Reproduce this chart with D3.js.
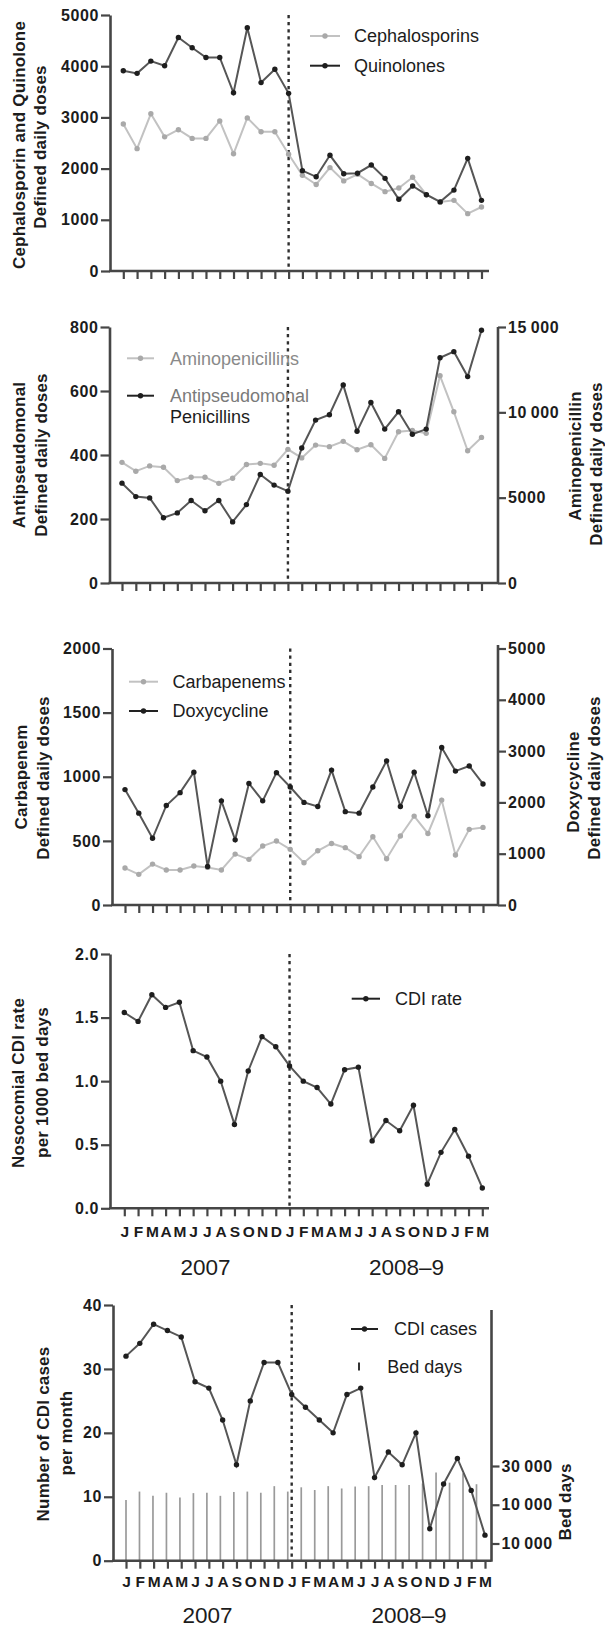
<!DOCTYPE html>
<html>
<head>
<meta charset="utf-8">
<script src="https://cdn.jsdelivr.net/npm/d3@7"></script>
<style>
  body { margin: 0; background: #fff; }
  svg { display: block; }
  text { font-family: "Liberation Sans", Arial, Helvetica, sans-serif; fill: #1c1c1c; }
</style>
</head>
<body>
<svg id="chart" width="605" height="1629"></svg>
<script>
/* antibiotic use vs CDI, 2007 – 2008-9, five stacked panels */
var months = ['J','F','M','A','M','J','J','A','S','O','N','D','J','F','M','A','M','J','J','A','S','O','N','D','J','F','M'];
var years = ['2007', '2008\u20139'];

var cephalosporins = [2870,2390,3070,2620,2760,2590,2590,2930,2290,2990,2720,2720,2280,1870,1690,2020,1760,1890,1710,1550,1620,1830,1490,1350,1380,1120,1250];
var quinolones     = [3910,3860,4100,4010,4560,4360,4170,4170,3480,4750,3680,3940,3470,1960,1840,2260,1900,1910,2070,1810,1400,1660,1490,1350,1580,2200,1380];

var antipseudomonal  = [312,270,266,204,219,258,226,258,191,245,339,306,287,422,509,526,619,474,564,481,535,465,481,704,723,645,790];
var aminopenicillins = [7070,6550,6860,6780,6000,6200,6200,5840,6140,6940,7010,6900,7830,7330,8080,7990,8300,7810,8100,7300,8860,8940,8770,12140,10030,7750,8530];

var carbapenems = [288,239,319,273,273,304,293,273,397,356,460,499,434,330,423,480,447,377,532,361,538,693,558,818,390,590,605];
var doxycycline = [2250,1790,1300,1940,2190,2590,750,2030,1270,2370,2030,2580,2300,2000,1920,2630,1820,1790,2300,2810,1920,2590,1740,3070,2610,2710,2360];

var cdiRate  = [1.54,1.47,1.68,1.58,1.62,1.24,1.19,1.00,0.66,1.08,1.35,1.27,1.12,1.00,0.95,0.82,1.09,1.11,0.53,0.69,0.61,0.81,0.19,0.44,0.62,0.41,0.16];
var cdiCases = [32,34,37,36,35,28,27,22,15,25,31,31,26,24,22,20,26,27,13,17,15,20,5,12,16,11,4];
var bedDays  = [21200,23400,22300,23100,21900,23000,23100,22300,23300,23400,23100,24800,23400,24500,23800,24800,24200,24700,24800,25100,25100,25100,25500,28300,25700,28100,25300];

var bedDayTicks = [10000, 20000, 30000];
var bedDayTickLabels = ['10\u2009000', '10\u2009000', '30\u2009000'];

var svg = d3.select('#chart');
var DARK_LINE = '#565656', DARK_DOT = '#1e1e1e', LIGHT_LINE = '#c2c2c2', LIGHT_DOT = '#a9a9a9', AXIS = '#464646';

function spaced(d) { return d >= 10000 ? String(d).replace(/(\d{3})$/, '\u2009$1') : String(d); }

function styleAxis(sel) {
  sel.selectAll('.domain').attr('stroke', AXIS).attr('stroke-width', 2.6);
  sel.selectAll('.tick line').attr('stroke', AXIS).attr('stroke-width', 2.2);
  sel.selectAll('.tick text').attr('font-size', 16).attr('font-weight', 'bold').attr('letter-spacing', 0.6)
    .attr('fill', '#1c1c1c').attr('font-family', '"Liberation Sans", Arial, sans-serif');
}

function panel(o) {
  var g = svg.append('g');
  var x = d3.scalePoint().domain(d3.range(months.length)).range([o.x0, o.x1]);
  var y = d3.scaleLinear().domain(o.yDomain).range([o.bottom, o.top]);

  // x axis base + ticks
  g.append('line').attr('x1', o.left - 1).attr('x2', o.axisEnd).attr('y1', o.bottom).attr('y2', o.bottom)
    .attr('stroke', AXIS).attr('stroke-width', 2.6);
  var xa = g.append('g').attr('transform', 'translate(0,' + o.bottom + ')')
    .call(d3.axisBottom(x).tickSize(8).tickPadding(o.monthPad || 0)
      .tickFormat(function (i) { return o.months ? months[i] : ''; }));
  xa.select('.domain').remove();
  styleAxis(xa);
  xa.selectAll('.tick text').attr('font-size', 15.5).attr('letter-spacing', 0);

  // left axis
  var ya = g.append('g').attr('transform', 'translate(' + o.left + ',0)')
    .call(d3.axisLeft(y).tickValues(o.yTicks).tickSize(9).tickPadding(2).tickFormat(o.yFormat || spaced).tickSizeOuter(0));
  styleAxis(ya);

  // dotted divider at January 2008
  g.append('line').attr('x1', x(12)).attr('x2', x(12)).attr('y1', o.top).attr('y2', o.bottom)
    .attr('stroke', '#2e2e2e').attr('stroke-width', 2.4).attr('stroke-dasharray', '3.2,3.9');

  if (o.years) {
    var step = x.step();
    g.selectAll('text.year').data(years).enter().append('text').attr('class', 'year')
      .attr('x', function (d, i) { return o.x0 + step * [5.9, 20.5][i]; })
      .attr('y', o.yearY).attr('text-anchor', 'middle').attr('font-size', 22.5).text(function (d) { return d; });
  }
  return { g: g, x: x, y: y };
}

function series(p, yScale, values, dark) {
  var line = d3.line().x(function (d, i) { return p.x(i); }).y(function (d) { return yScale(d); });
  var g = p.g.append('g');
  g.append('path').datum(values).attr('d', line).attr('fill', 'none')
    .attr('stroke', dark ? DARK_LINE : LIGHT_LINE).attr('stroke-width', 2);
  g.selectAll('circle').data(values).enter().append('circle')
    .attr('cx', function (d, i) { return p.x(i); }).attr('cy', yScale).attr('r', 2.7)
    .attr('fill', dark ? DARK_DOT : LIGHT_DOT);
}

function rightAxis(p, scale, x, ticks, fmt, top, bottom) {
  p.g.append('line').attr('x1', x).attr('x2', x).attr('y1', top).attr('y2', bottom + 1)
    .attr('stroke', AXIS).attr('stroke-width', 2.6);
  var a = p.g.append('g').attr('transform', 'translate(' + x + ',0)')
    .call(d3.axisRight(scale).tickValues(ticks).tickSize(8).tickPadding(2).tickFormat(fmt));
  a.select('.domain').remove();
  styleAxis(a);
}

function title(lines) {
  lines.forEach(function (l) {
    svg.append('text').attr('transform', 'translate(' + l[0] + ',' + l[2] + ') rotate(-90)')
      .attr('text-anchor', 'middle').attr('dy', '0.36em').attr('font-size', 17).attr('font-weight', 'bold')
      .attr('letter-spacing', 0.2).text(l[1]);
  });
}

function legend(x1, x2, y, dark, label, tx, color) {
  svg.append('line').attr('x1', x1).attr('x2', x2).attr('y1', y).attr('y2', y)
    .attr('stroke', dark ? '#222' : LIGHT_LINE).attr('stroke-width', 2);
  svg.append('circle').attr('cx', (x1 + x2) / 2).attr('cy', y).attr('r', 2.7).attr('fill', dark ? DARK_DOT : LIGHT_DOT);
  legendText(tx, y, label, color);
}
function legendText(x, y, label, color) {
  svg.append('text').attr('x', x).attr('y', y).attr('dy', '0.36em').attr('font-size', 18)
    .style('fill', color || '#1c1c1c').text(label);
}

/* ---- panel 1: cephalosporins & quinolones ---- */
var p1 = panel({ left: 110, x0: 123.3, x1: 481.5, top: 15, bottom: 271, axisEnd: 489,
  yDomain: [0, 5000], yTicks: d3.range(0, 5001, 1000) });
series(p1, p1.y, cephalosporins, false);
series(p1, p1.y, quinolones, true);
title([[18.5, 'Cephalosporin and Quinolone', 145], [40, 'Defined daily doses', 147]]);
legend(310, 340, 36, false, 'Cephalosporins', 354);
legend(310, 340, 65.7, true, 'Quinolones', 354);

/* ---- panel 2: antipseudomonal (left) & aminopenicillins (right) ---- */
var p2 = panel({ left: 109.5, x0: 122, x1: 481.5, top: 327, bottom: 583, axisEnd: 498,
  yDomain: [0, 800], yTicks: d3.range(0, 801, 200) });
var y2r = d3.scaleLinear().domain([0, 15000]).range([583, 327]);
rightAxis(p2, y2r, 498, [0, 5000, 10000, 15000], spaced, 327, 583);
series(p2, y2r, aminopenicillins, false);
series(p2, p2.y, antipseudomonal, true);
title([[19, 'Antipseudomonal', 455], [40.5, 'Defined daily doses', 455], [575, 'Aminopenicillin', 456], [595.5, 'Defined  daily doses', 464]]);
legend(127, 154, 358.3, false, 'Aminopenicillins', 170, '#8a8a8a');
legend(127, 154, 395.7, true, 'Antipseudomonal', 170, '#7a7a7a');
legendText(170, 416.7, 'Penicillins');

/* ---- panel 3: carbapenems (left) & doxycycline (right) ---- */
var p3 = panel({ left: 112, x0: 125, x1: 483, top: 648.5, bottom: 905, axisEnd: 498,
  yDomain: [0, 2000], yTicks: d3.range(0, 2001, 500) });
var y3r = d3.scaleLinear().domain([0, 5000]).range([905, 648.5]);
rightAxis(p3, y3r, 498, d3.range(0, 5001, 1000), String, 645, 905);
series(p3, p3.y, carbapenems, false);
series(p3, y3r, doxycycline, true);
title([[21, 'Carbapenem', 777], [42.4, 'Defined daily doses', 778], [573, 'Doxycycline', 782], [594, 'Defined daily doses', 778]]);
legend(129, 158, 681.7, false, 'Carbapenems', 172.5);
legend(129, 158, 711, true, 'Doxycycline', 172.5);

/* ---- panel 4: CDI rate ---- */
var p4 = panel({ left: 110, x0: 124.3, x1: 482.3, top: 954, bottom: 1208.3, axisEnd: 489,
  yDomain: [0, 2], yTicks: [0, 0.5, 1, 1.5, 2], yFormat: d3.format('.1f'),
  months: true, monthPad: 10, years: true, yearY: 1274.5 });
series(p4, p4.y, cdiRate, true);
title([[18.3, 'Nosocomial  CDI rate', 1083], [41.7, 'per 1000 bed days', 1082.5]]);
legend(351.7, 380, 998.7, true, 'CDI rate', 395);

/* ---- panel 5: CDI cases & bed days ---- */
var p5 = panel({ left: 113, x0: 126, x1: 485, top: 1305, bottom: 1560.7, axisEnd: 491.5,
  yDomain: [0, 40], yTicks: d3.range(0, 41, 10),
  months: true, monthPad: 7, years: true, yearY: 1623 });
var yBed = d3.scaleLinear().domain([10000, 30000]).range([1543.5, 1466]);
var xBar = d3.scalePoint().domain(d3.range(bedDays.length)).range([126, 476.5]);
p5.g.insert('g', ':first-child').selectAll('line').data(bedDays).enter().append('line')
  .attr('x1', function (d, i) { return xBar(i); }).attr('x2', function (d, i) { return xBar(i); })
  .attr('y1', 1560.7).attr('y2', yBed).attr('stroke', '#9a9a9a').attr('stroke-width', 1.7);
rightAxis(p5, yBed, 491.5, bedDayTicks, function (d, i) { return bedDayTickLabels[i]; }, 1310, 1560.7);
series(p5, p5.y, cdiCases, true);
title([[42.4, 'Number of CDI cases', 1434], [65.6, 'per month', 1433], [565, 'Bed days', 1502]]);
legend(351, 378, 1329, true, 'CDI cases', 394);
svg.append('line').attr('x1', 359).attr('x2', 359).attr('y1', 1362.5).attr('y2', 1370.5)
  .attr('stroke', '#333').attr('stroke-width', 2);
legendText(387.3, 1366.7, 'Bed days');
</script>
</body>
</html>
